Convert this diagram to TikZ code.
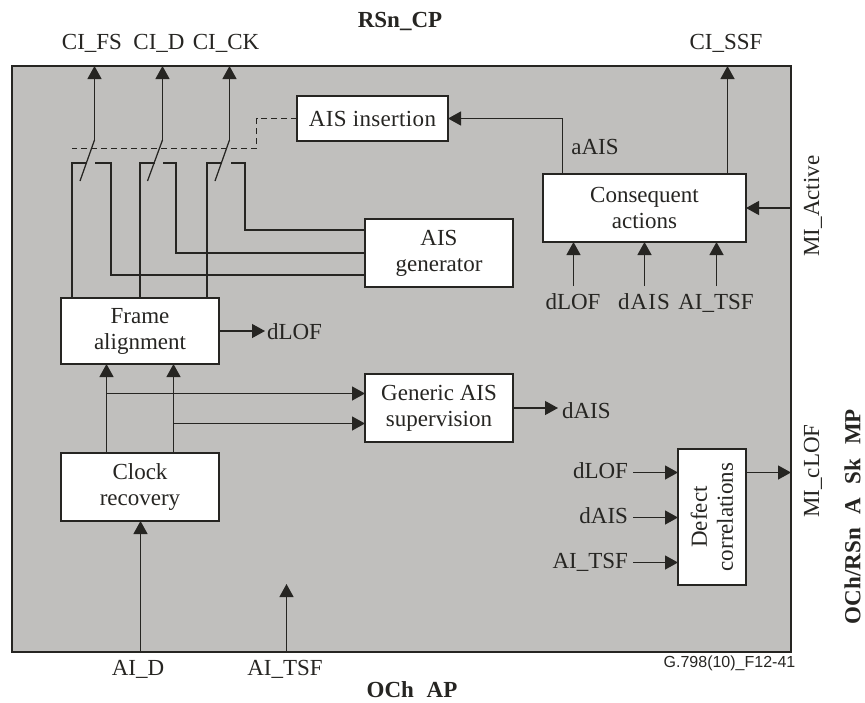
\documentclass[tikz,border=0pt]{standalone}
\usepackage{fontspec}
\setmainfont{Liberation Serif}
\newfontfamily\figsans{Liberation Sans}
\usetikzlibrary{arrows.meta}
\definecolor{panelgray}{HTML}{C0BFBD}
\definecolor{inkdark}{HTML}{262522}
\tikzset{
  x=1pt,y=-1pt,
  panel/.style={draw=inkdark,line width=1.5pt,fill=panelgray,inner sep=0pt,outer sep=0pt},
  blockbox/.style={draw=inkdark,line width=1.5pt,fill=white,inner sep=0pt,outer sep=0pt,align=center,text=inkdark,font=\fontsize{23}{26}\selectfont},
  lab/.style={inner sep=0pt,outer sep=0pt,text=inkdark,font=\fontsize{23}{26}\selectfont},
  boldlab/.style={lab,font=\fontsize{23}{26}\selectfont\bfseries},
  conn/.style={draw=inkdark,line width=1.25pt},
  busline/.style={draw=inkdark,line width=1.4pt},
  flow/.style={conn,-{Triangle[length=13pt,width=14pt]}},
  ctrl/.style={draw=inkdark,line width=1pt,dashed,dash pattern=on 6pt off 4pt},
}
\begin{document}
\begin{tikzpicture}
\useasboundingbox (0,0) rectangle (865,702);
\node[panel,minimum width=779pt,minimum height=586pt] (outer) at (401.5,359) {};
\node[blockbox,minimum width=151pt,minimum height=45pt] (aisins) at (372.5,118.5) {\addfontfeature{LetterSpace=1.5}AIS insertion};
\node[blockbox,minimum width=148pt,minimum height=68pt] (aisgen) at (439,253) {AIS\\generator};
\node[blockbox,minimum width=158pt,minimum height=66pt] (frame) at (140,331) {Frame\\alignment};
\node[blockbox,minimum width=158pt,minimum height=68pt] (clock) at (140,487) {Clock\\recovery};
\node[blockbox,minimum width=148pt,minimum height=68pt] (generic) at (439,408) {Generic AIS\\supervision};
\node[blockbox,minimum width=203pt,minimum height=68pt] (conseq) at (644.5,208) {Consequent\\actions};
\node[blockbox,minimum width=136pt,minimum height=68pt,rotate=90] (defect) at (712,517) {Defect\\correlations};

\node[boldlab] (rsncp) at (400,21.5) {RSn\_CP};
\node[lab] (cifs) at (92,43) {CI\_FS};
\node[lab] (cid) at (159,43) {CI\_D};
\node[lab] (cick) at (226,43) {CI\_CK};
\node[lab] (cissf) at (726,43) {CI\_SSF};
\node[lab] (aais) at (595,147) {aAIS};
\node[lab] (cdlof) at (573,302) {dLOF};
\node[lab] (cdais) at (644,302) {\addfontfeature{LetterSpace=5}dAIS};
\node[lab] (ctsf) at (716,303) {AI\_TSF};
\node[lab,anchor=west] (fdlof) at (267,332) {dLOF};
\node[lab,anchor=west] (gdais) at (562,411) {dAIS};
\node[lab,anchor=east] (ddlof) at (628,471) {dLOF};
\node[lab,anchor=east] (ddais) at (628,516) {dAIS};
\node[lab,anchor=east] (dtsf) at (628,562) {AI\_TSF};
\node[lab] (aid) at (138,669.5) {AI\_D};
\node[lab] (aitsf) at (285,669.5) {AI\_TSF};
\node[boldlab] (ochap) at (412,690) {OCh\hspace{7pt} AP};
\node[lab,rotate=90] (miact) at (813,206) {MI\_Active};
\node[lab,rotate=90] (miclof) at (813,471) {MI\_cLOF};
\node[boldlab,rotate=90] (sinkmp) at (852.5,516.5) {OCh/RSn\hspace{8pt} A\hspace{8pt} Sk\hspace{8pt} MP};
\node[lab,font=\figsans\fontsize{16}{18}\selectfont] (figid) at (729.5,663) {G.798(10)\_F12-41};

% output switches
\coordinate (swfs) at (94.5,140);
\coordinate (swd) at (162.5,140);
\coordinate (swck) at (229.5,140);
\coordinate (tipfs) at (80,181);
\coordinate (tipd) at (147.5,181);
\coordinate (tipck) at (215,181);
\draw[flow] (swfs) -- (swfs |- outer.north);
\draw[flow] (swd) -- (swd |- outer.north);
\draw[flow] (swck) -- (swck |- outer.north);
\draw[conn] (swfs) -- (tipfs);
\draw[conn] (swd) -- (tipd);
\draw[conn] (swck) -- (tipck);

% frame alignment to switches
\coordinate (ffs) at (72,163);
\coordinate (fd) at (140,163);
\coordinate (fck) at (207,163);
\coordinate (ffsend) at (87,163);
\coordinate (fdend) at (155,163);
\coordinate (fckend) at (222,163);
\draw[busline] (ffs |- frame.north) -- (ffs) -- (ffsend);
\draw[busline] (fd |- frame.north) -- (fd) -- (fdend);
\draw[busline] (fck |- frame.north) -- (fck) -- (fckend);

% AIS generator to switches
\coordinate (gfs) at (95,163);
\coordinate (gfsb) at (111,163);
\coordinate (gd) at (163,163);
\coordinate (gdb) at (176,163);
\coordinate (gck) at (231,163);
\coordinate (gckb) at (245,163);
\coordinate (gfsr) at (111,275);
\coordinate (gdr) at (176,253);
\coordinate (gckr) at (245,230);
\draw[busline] (gfs) -- (gfsb) -- (gfsr) -- (gfsr -| aisgen.west);
\draw[busline] (gd) -- (gdb) -- (gdr) -- (gdr -| aisgen.west);
\draw[busline] (gck) -- (gckb) -- (gckr) -- (gckr -| aisgen.west);

% AIS insertion control
\coordinate (ctla) at (256.5,118.5);
\coordinate (ctlb) at (256.5,148.5);
\coordinate (ctlc) at (72,148.5);
\draw[ctrl] (aisins.west) -- (ctla) -- (ctlb) -- (ctlc);

% consequent actions
\coordinate (aaisx) at (562.5,118.5);
\draw[flow] (aaisx |- conseq.north) -- (aaisx) -- (aisins.east);
\coordinate (ssfx) at (727.5,120);
\draw[flow] (ssfx |- conseq.north) -- (ssfx |- outer.north);
\draw[flow] (conseq.east -| outer.east) -- (conseq.east);
\coordinate (cl) at (573.5,286);
\coordinate (ca) at (644.5,286);
\coordinate (ct) at (716.5,286);
\draw[flow] (cl) -- (cl |- conseq.south);
\draw[flow] (ca) -- (ca |- conseq.south);
\draw[flow] (ct) -- (ct |- conseq.south);

% frame alignment and clock recovery
\coordinate (fout) at (265,331);
\draw[flow] (frame.east) -- (fout);
\coordinate (k1) at (106.5,393.5);
\coordinate (k2) at (173.5,423.5);
\draw[flow] (k1 |- clock.north) -- (k1 |- frame.south);
\draw[flow] (k2 |- clock.north) -- (k2 |- frame.south);
\draw[flow] (k1) -- (k1 -| generic.west);
\draw[flow] (k2) -- (k2 -| generic.west);
\coordinate (gout) at (558,408);
\draw[flow] (generic.east) -- (gout);
\coordinate (aidx) at (140.5,600);
\draw[flow] (aidx |- outer.south) -- (aidx |- clock.south);
\coordinate (tsfx) at (286.5,652);
\coordinate (tsftip) at (286.5,584);
\draw[flow] (tsfx) -- (tsftip);

% defect correlations
\coordinate (d1) at (633,472.5);
\coordinate (d2) at (633,517.5);
\coordinate (d3) at (633,562.5);
\coordinate (dr1) at (678,472.5);
\coordinate (dr2) at (678,517.5);
\coordinate (dr3) at (678,562.5);
\coordinate (dr4) at (746,472.5);
\draw[flow] (d1) -- (dr1);
\draw[flow] (d2) -- (dr2);
\draw[flow] (d3) -- (dr3);
\draw[flow] (dr4) -- (dr4 -| outer.east);
\end{tikzpicture}
\end{document}
